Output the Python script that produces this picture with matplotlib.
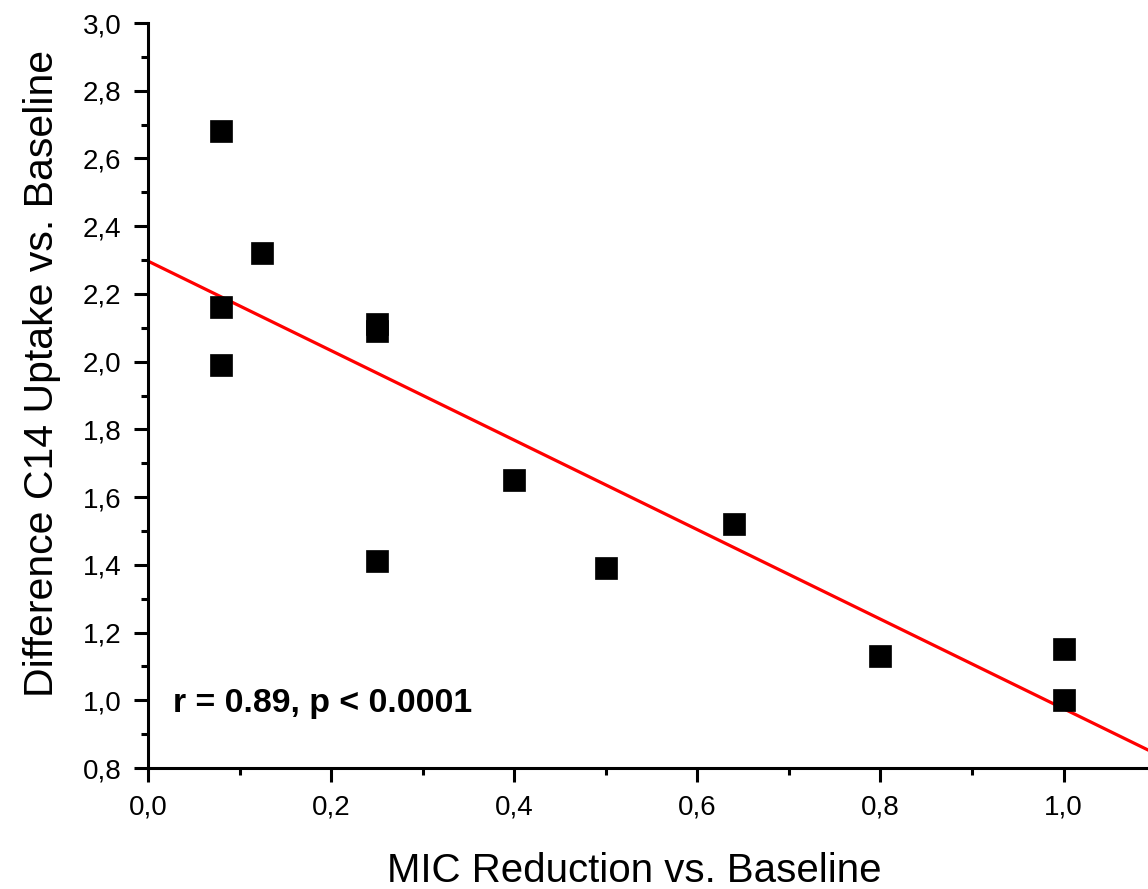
import matplotlib
matplotlib.use("Agg")
import matplotlib.pyplot as plt
from matplotlib.ticker import MultipleLocator, FuncFormatter

plt.rcParams['font.family'] = ['Liberation Sans', 'DejaVu Sans']

# MIC reduction vs. difference in C14 uptake, both relative to baseline
mic_reduction = [0.08, 0.125, 0.08, 0.08, 0.25, 0.25, 0.25, 0.40, 0.50, 0.64, 0.80, 1.00, 1.00]
c14_uptake = [2.68, 2.32, 2.16, 1.99, 2.11, 2.09, 1.41, 1.65, 1.39, 1.52, 1.13, 1.15, 1.00]

# regression line end points
fit_x = [0.0, 1.1]
fit_y = [2.297, 0.843]

stats_label = "r = 0.89, p < 0.0001"

fig = plt.figure(figsize=(11.48, 8.89), dpi=100)
ax = fig.add_axes([0.1289, 0.1361, 0.8773, 0.8380])

ax.plot(fit_x, fit_y, color='#ff0000', lw=2.3, zorder=2)
ax.plot(mic_reduction, c14_uptake, linestyle='none', marker='s', ms=15.3,
        mfc='black', mec='black', mew=0.5, zorder=3)

ax.set_xlim(0.0, 1.1)
ax.set_ylim(0.8, 3.0)

comma = FuncFormatter(lambda v, pos: f"{v:.1f}".replace('.', ','))
ax.xaxis.set_major_locator(MultipleLocator(0.2))
ax.xaxis.set_minor_locator(MultipleLocator(0.1))
ax.yaxis.set_major_locator(MultipleLocator(0.2))
ax.yaxis.set_minor_locator(MultipleLocator(0.1))
ax.xaxis.set_major_formatter(comma)
ax.yaxis.set_major_formatter(comma)

for side in ('top', 'right'):
    ax.spines[side].set_visible(False)
for side in ('left', 'bottom'):
    ax.spines[side].set_linewidth(2.2)

ax.tick_params(which='major', direction='out', length=10, width=2.2,
               labelsize=20, pad=9)
ax.tick_params(which='minor', direction='out', length=5, width=2.2)

ax.set_xlabel("MIC Reduction vs. Baseline", fontsize=29)
ax.set_ylabel("Difference C14 Uptake vs. Baseline", fontsize=29.5)
ax.xaxis.set_label_coords(0.4826, -0.113)
ax.yaxis.set_label_coords(-0.086, 0.529)

ax.text(0.027, 0.99, stats_label, fontsize=24.4, fontweight='bold',
        ha='left', va='center')

fig.savefig("out.png", dpi=100)
